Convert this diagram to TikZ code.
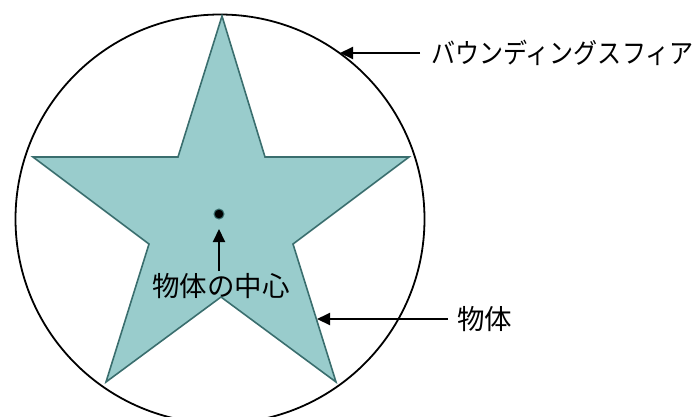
\documentclass[tikz,border=0pt]{standalone}
\usepackage{fontspec}
\setmainfont{Noto Sans CJK JP}
\usetikzlibrary{arrows.meta}
\definecolor{starfill}{HTML}{99CCCC}
\definecolor{stardraw}{HTML}{3A6E6E}
\tikzset{
  lbl/.style={inner sep=0pt, font=\fontsize{27.5}{29}\selectfont},
  pointer/.style={line width=2pt, -{Triangle[length=13pt,width=12pt]}},
}
\begin{document}
\begin{tikzpicture}[x=1pt,y=-1pt]
\useasboundingbox (0,0) rectangle (696,416);
\clip (0,0) rectangle (696,416);
% bounding sphere
\node[draw, line width=1.8pt, circle, minimum size=409pt, inner sep=0pt] (sphere) at (220,219) {};
% star (object)
\coordinate (t) at (222,16);
\coordinate (ir) at (265,157);
\coordinate (r) at (409,157);
\coordinate (lr) at (293,244);
\coordinate (br) at (336,382);
\coordinate (bi) at (221,297);
\coordinate (bl) at (106,382);
\coordinate (ll) at (149,244);
\coordinate (l) at (33,157);
\coordinate (il) at (178,157);
\draw[fill=starfill, draw=stardraw, line width=1.6pt, line join=miter]
  (t) -- (ir) -- (r) -- (lr) -- (br) -- (bi) -- (bl) -- (ll) -- (l) -- (il) -- cycle;
% centre
\node[circle, fill=black, draw=stardraw, line width=1pt, minimum size=10pt, inner sep=0pt] (ctr) at (219,214) {};
\coordinate (ctrtip) at (219,229);
\node[lbl] (ctrlbl) at (221,286) {物体の中心};
\draw[pointer] (ctrlbl.north -| ctrtip) ++(0,-2) coordinate (ctrfrom) (ctrfrom) -- (ctrtip);
% bounding sphere label
\coordinate (sphtip) at (340,53);
\node[lbl, anchor=west] (sphlbl) at (431,53) {\scalebox{0.875}[1]{バウンディングスフィア}};
\draw[pointer] (sphlbl.west) ++(-11,0) -- (sphtip);
% object label
\coordinate (objtip) at (317,319);
\node[lbl, anchor=west] (objlbl) at (457,319) {物体};
\draw[pointer] (objlbl.west) ++(-9,0) -- (objtip);
\end{tikzpicture}
\end{document}
